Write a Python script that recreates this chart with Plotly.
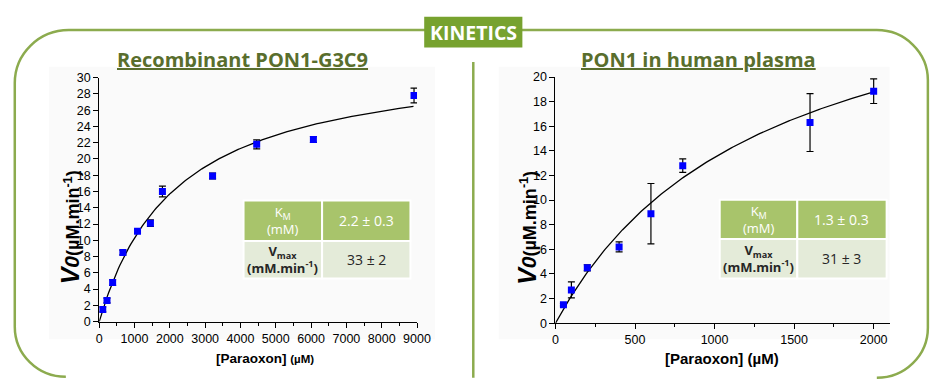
import numpy as np
import plotly.graph_objects as go

W, H = 935, 380

# ---------------- data ----------------
# Recombinant PON1-G3C9
rec_x = [100, 220, 380, 670, 1085, 1450, 1790, 3210, 4460, 6065, 8915]
rec_y = [1.5, 2.6, 4.8, 8.5, 11.1, 12.1, 16.0, 17.9, 21.8, 22.4, 27.8]
rec_err = [0.3, 0.3, 0.35, 0.3, 0.25, 0.4, 0.65, 0.35, 0.55, 0.35, 0.9]
rec_km_uM = 2200
rec_vmax = 33
rec_xticks = [0, 1000, 2000, 3000, 4000, 5000, 6000, 7000, 8000, 9000]
rec_yticks = list(range(0, 31, 2))

# PON1 in human plasma
pla_x = [50, 100, 200, 400, 600, 800, 1600, 2000]
pla_y = [1.5, 2.7, 4.5, 6.2, 8.9, 12.8, 16.3, 18.85]
pla_err = [0.1, 0.65, 0.25, 0.4, 2.45, 0.55, 2.35, 1.0]
pla_km_uM = 1300
pla_vmax = 31
pla_xticks = [0, 500, 1000, 1500, 2000]
pla_yticks = list(range(0, 21, 2))

rec_table = [["K<sub>M</sub><br>(mM)", "2.2 ± 0.3"],
             ["<b>V<sub>max</sub><br>(mM.min<sup>-1</sup>)</b>", "33 ± 2"]]
pla_table = [["K<sub>M</sub><br>(mM)", "1.3 ± 0.3"],
             ["<b>V<sub>max</sub><br>(mM.min<sup>-1</sup>)</b>", "31 ± 3"]]

# Michaelis-Menten fit curves from the reported parameters
rec_cx = np.linspace(0, 8900, 200)
rec_cy = rec_vmax * rec_cx / (rec_km_uM + rec_cx)
pla_cx = np.linspace(0, 2000, 200)
pla_cy = pla_vmax * pla_cx / (pla_km_uM + pla_cx)


def px(x):
    return x / W


def py(y):
    return 1 - y / H


fig = go.Figure()

BLUE = "#0000ff"
for xs, ys, es, cx, cy, xa, ya in [
    (rec_x, rec_y, rec_err, rec_cx, rec_cy, "x", "y"),
    (pla_x, pla_y, pla_err, pla_cx, pla_cy, "x2", "y2"),
]:
    fig.add_trace(go.Scatter(x=cx, y=cy, mode="lines", xaxis=xa, yaxis=ya,
                             line=dict(color="black", width=1.3),
                             hoverinfo="skip", showlegend=False))
    fig.add_trace(go.Scatter(x=xs, y=ys, mode="markers", xaxis=xa, yaxis=ya,
                             marker=dict(symbol="square", size=7, color=BLUE),
                             error_y=dict(type="data", array=es, color="black",
                                          thickness=1.2, width=3.5),
                             showlegend=False))

tickfont = dict(family="Arial, Liberation Sans", size=12.5, color="black")
axcommon = dict(showgrid=False, zeroline=False, showline=True, linecolor="black",
                linewidth=1, ticks="outside", ticklen=5, tickcolor="black",
                tickfont=tickfont, fixedrange=True)

fig.update_layout(
    width=W, height=H, autosize=False, margin=dict(l=0, r=0, t=0, b=0),
    paper_bgcolor="white", plot_bgcolor="rgba(0,0,0,0)",
    xaxis=dict(domain=[px(98), px(421.7)], range=[0, 9000], tickvals=rec_xticks,
               minor=dict(ticks="outside", ticklen=3, dtick=500, tickcolor="black"),
               anchor="y", **axcommon),
    yaxis=dict(domain=[py(326.7), py(73.3)], range=[0, 30], tickvals=rec_yticks,
               anchor="x", **axcommon),
    xaxis2=dict(domain=[px(562.7), px(903)], range=[0, 2100], tickvals=pla_xticks,
                minor=dict(ticks="outside", ticklen=3, dtick=250, tickcolor="black"),
                anchor="y2", **axcommon),
    yaxis2=dict(domain=[py(328.3), py(72.7)], range=[0, 20], tickvals=pla_yticks,
                anchor="x2", **axcommon),
)

shapes = []
annots = []

# faint plot panels
for x0, x1 in [(47, 440), (505, 903)]:
    shapes.append(dict(type="rect", xref="paper", yref="paper", layer="below",
                       x0=px(x0), x1=px(x1), y0=py(345), y1=py(62),
                       fillcolor="#fafafa", line=dict(width=0)))

# frame
GREEN_LINE = "#8cab4e"
k = 0.552


def pt(x, y):
    return f"{px(x):.5f},{py(y):.5f}"


r1, r2 = 55, 52
left = (f"M {pt(12 + r2, 384)} "
        f"C {pt(12 + r2 - k * r2, 384)} {pt(12, 384 - r2 + k * r2)} {pt(12, 384 - r2)} "
        f"L {pt(12, 24 + r1)} "
        f"C {pt(12, 24 + r1 - k * r1)} {pt(12 + r1 - k * r1, 24)} {pt(12 + r1, 24)} "
        f"L {pt(432, 24)}")
right = (f"M {pt(526, 24)} L {pt(890, 24)} "
         f"C {pt(890 + k * r2, 24)} {pt(942, 76 - k * r2)} {pt(942, 76)} "
         f"L {pt(942, 333)} "
         f"C {pt(942, 333 + k * r2)} {pt(890 + k * r2, 385)} {pt(890, 385)}")
for p in (left, right):
    shapes.append(dict(type="path", xref="paper", yref="paper", path=p,
                       line=dict(color=GREEN_LINE, width=2.5)))

# divider
shapes.append(dict(type="line", xref="paper", yref="paper",
                   x0=px(479), x1=px(479), y0=py(57), y1=py(385),
                   line=dict(color=GREEN_LINE, width=2.5)))

# KINETICS box
shapes.append(dict(type="rect", xref="paper", yref="paper",
                   x0=px(429), x1=px(529), y0=py(42), y1=py(10),
                   fillcolor="#77a22f", line=dict(width=0)))
annots.append(dict(text="<b>KINETICS</b>", x=px(479), y=py(26.5), xref="paper", yref="paper",
                   showarrow=False, xanchor="center", yanchor="middle",
                   font=dict(family="Open Sans", size=19.5, color="white")))

# titles
TITLE_COLOR = "#596e2d"
for t, cx in [("Recombinant PON1-G3C9", 244), ("PON1 in human plasma", 708)]:
    annots.append(dict(text=f"<u><b>{t}</b></u>", x=px(cx), y=py(54), xref="paper",
                       yref="paper", showarrow=False, xanchor="center", yanchor="middle",
                       font=dict(family="Open Sans", size=20, color=TITLE_COLOR)))

# axis titles
ARIAL = "Arial, Liberation Sans"
annots.append(dict(text='<b>[Paraoxon] <span style="font-size:11.5px">(µM)</span></b>',
                   x=px(267), y=py(365), xref="paper", yref="paper", showarrow=False,
                   xanchor="center", yanchor="middle",
                   font=dict(family=ARIAL, size=13.5, color="black")))
annots.append(dict(text="<b>[Paraoxon] (µM)</b>",
                   x=px(732), y=py(365), xref="paper", yref="paper", showarrow=False,
                   xanchor="center", yanchor="middle",
                   font=dict(family=ARIAL, size=15, color="black")))
ytitle = ('<b><i><span style="font-size:25px">V</span>'
          '<span style="font-size:21px">0</span></i></b>'
          '<b>(µM.min<sup>-1</sup>)</b>')
for cx in (68, 533):
    annots.append(dict(text=ytitle, x=px(cx), y=py(229), xref="paper", yref="paper",
                       showarrow=False, textangle=-90, xanchor="center", yanchor="middle",
                       font=dict(family=ARIAL, size=18, color="black")))

# tables
TOP_FILL = "#a8c46b"
BOT_FILL = "#e4ebd9"
for cols, rows, cells in [([245, 325, 415], [201, 243, 282], rec_table),
                          ([730, 809, 900], [200, 241, 282], pla_table)]:
    for ri in range(2):
        for ci in range(2):
            shapes.append(dict(type="rect", xref="paper", yref="paper",
                               x0=px(cols[ci]), x1=px(cols[ci + 1]),
                               y0=py(rows[ri + 1]), y1=py(rows[ri]),
                               fillcolor=TOP_FILL if ri == 0 else BOT_FILL,
                               line=dict(color="white", width=2)))
            color = "white" if ri == 0 else "#262626"
            size = 14 if ci == 1 else 13
            annots.append(dict(text=cells[ri][ci],
                               x=px((cols[ci] + cols[ci + 1]) / 2),
                               y=py((rows[ri] + rows[ri + 1]) / 2),
                               xref="paper", yref="paper", showarrow=False,
                               xanchor="center", yanchor="middle",
                               font=dict(family="Open Sans", size=size, color=color)))

fig.update_layout(shapes=shapes, annotations=annots)

post = ("var gd=document.getElementById('{plot_id}');"
        "document.documentElement.style.margin='0';"
        "document.documentElement.style.overflow='hidden';"
        "document.body.style.margin='0';"
        "document.body.style.padding='0';"
        "document.body.style.overflow='hidden';"
        "gd.style.position='fixed';gd.style.left='0px';gd.style.top='0px';")

fig.write_html("out.html",
               config={"responsive": False, "displayModeBar": False},
               post_script=post)
